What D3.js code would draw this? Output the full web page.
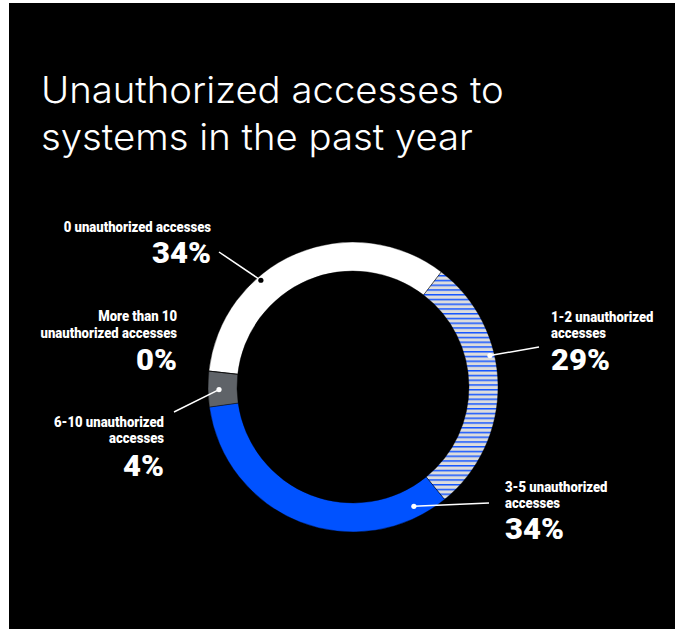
<!DOCTYPE html>
<html>
<head>
<meta charset="utf-8">
<script src="https://cdn.jsdelivr.net/npm/d3@7"></script>
<style>
  html, body { margin: 0; padding: 0; background: #ffffff; }
  svg { display: block; }
</style>
</head>
<body>
<svg id="chart" width="684" height="629"></svg>
<script>
// Survey: unauthorized accesses to systems in the past year
const categories = [
  "0 unauthorized accesses",
  "1-2 unauthorized accesses",
  "3-5 unauthorized accesses",
  "6-10 unauthorized accesses",
  "More than 10 unauthorized accesses"
];
const shares = [34, 29, 34, 4, 0];
const labelLines = [
  ["0 unauthorized accesses"],
  ["1-2 unauthorized", "accesses"],
  ["3-5 unauthorized", "accesses"],
  ["6-10 unauthorized", "accesses"],
  ["More than 10", "unauthorized accesses"]
];
const titleLines = ["Unauthorized accesses to", "systems in the past year"];

const svg = d3.select("#chart");

// dark card
svg.append("rect").attr("x", 9).attr("y", 3).attr("width", 666).attr("height", 626).attr("fill", "#000");

// hatch fill for the 1-2 slice
const defs = svg.append("defs");
const pat = defs.append("pattern")
  .attr("id", "hatch").attr("patternUnits", "userSpaceOnUse")
  .attr("x", 0).attr("y", 2).attr("width", 10).attr("height", 4.75);
pat.append("rect").attr("width", 10).attr("height", 4.75).attr("fill", "#dcdcdc");
pat.append("rect").attr("width", 10).attr("height", 1.5).attr("fill", "#1656ff");

const fills = ["#ffffff", "url(#hatch)", "#0052ff", "#5f6368", "#8a8a8a"];

// title, widened to a geometric sans proportion
const titleFont = "Inter, 'Noto Sans', sans-serif";
function natural(str, size, family, weight) {
  const t = svg.append("text").attr("font-family", family).attr("font-weight", weight)
    .attr("font-size", size).text(str);
  const w = t.node().getComputedTextLength();
  t.remove();
  return w;
}
const titleSize = 37;
const kTitle = 463 / natural(titleLines[0], titleSize, titleFont, 300);
svg.append("g").attr("transform", `translate(41,0) scale(${kTitle},1)`)
  .selectAll("text").data(titleLines).join("text")
  .attr("x", 0).attr("y", (d, i) => 103 + i * 46.7)
  .attr("fill", "#fff")
  .attr("font-family", titleFont)
  .attr("font-weight", 300)
  .attr("font-size", titleSize)
  .text(d => d);

// donut
const cx = 353, cy = 387, rOuter = 145, rInner = 116;
const start = -83.7 * Math.PI / 180;
const pie = d3.pie().sort(null).value(d => d).startAngle(start).endAngle(start + 2 * Math.PI);
const arcs = pie(shares);
const arc = d3.arc().innerRadius(rInner).outerRadius(rOuter);

const g = svg.append("g").attr("transform", `translate(${cx},${cy})`);
g.selectAll("path").data(arcs).join("path")
  .attr("d", arc)
  .attr("fill", (d, i) => fills[i])
  .attr("stroke", "#000").attr("stroke-width", 0.4);

// leader anchors: position along each slice and radius of the dot
const anchorFrac = [0.354, 0.383, 0.1, 0.48, null];
const anchorR = [141, 140.5, 134, 134, null];
const lineEnds = [[219, 252], [539, 347], [489, 503], [174, 412], null];
const dotFill = ["#000", "#fff", "#fff", "#fff", null];

arcs.forEach((a, i) => {
  if (anchorFrac[i] == null) return;
  const ang = a.startAngle + anchorFrac[i] * (a.endAngle - a.startAngle);
  const x = cx + anchorR[i] * Math.sin(ang);
  const y = cy - anchorR[i] * Math.cos(ang);
  svg.append("line")
    .attr("x1", lineEnds[i][0]).attr("y1", lineEnds[i][1])
    .attr("x2", x).attr("y2", y)
    .attr("stroke", "#fff").attr("stroke-width", 1.5);
  svg.append("circle").attr("cx", x).attr("cy", y).attr("r", 2.6).attr("fill", dotFill[i]);
});

// labels
const labelPos = [
  { x: 211, anchor: "end",   lines: [231.7], pct: 263.3 },
  { x: 551, anchor: "start", lines: [322.3, 338.3], pct: 370 },
  { x: 505, anchor: "start", lines: [491.7, 508.3], pct: 539.5 },
  { x: 164, anchor: "end",   lines: [426.7, 443.3], pct: 475.7 },
  { x: 177, anchor: "end",   lines: [321, 337.7], pct: 370 }
];
const labelFont = "'Liberation Sans Narrow', 'Roboto', 'Liberation Sans', sans-serif";
const smallSize = 15, bigSize = 29;
// condensing factors so the labels read as a tall condensed face
const kSmall = 147.4 / natural("0 unauthorized accesses", smallSize, labelFont, 900);
const kBig = 59 / natural("34%", bigSize, labelFont, 900);

labelPos.forEach((p, i) => {
  const gs = svg.append("g").attr("transform", `translate(${p.x},0) scale(${kSmall},1)`);
  labelLines[i].forEach((ln, j) => {
    gs.append("text").attr("x", 0).attr("y", p.lines[j])
      .attr("text-anchor", p.anchor).attr("fill", "#fff")
      .attr("font-family", labelFont).attr("font-weight", 900).attr("font-size", smallSize)
      .text(ln);
  });
  const gb = svg.append("g").attr("transform", `translate(${p.x},0) scale(${kBig},1)`);
  gb.append("text").attr("x", 0).attr("y", p.pct)
    .attr("text-anchor", p.anchor).attr("fill", "#fff")
    .attr("font-family", labelFont).attr("font-weight", 900).attr("font-size", bigSize)
    .text(shares[i] + "%");
});
</script>
</body>
</html>
